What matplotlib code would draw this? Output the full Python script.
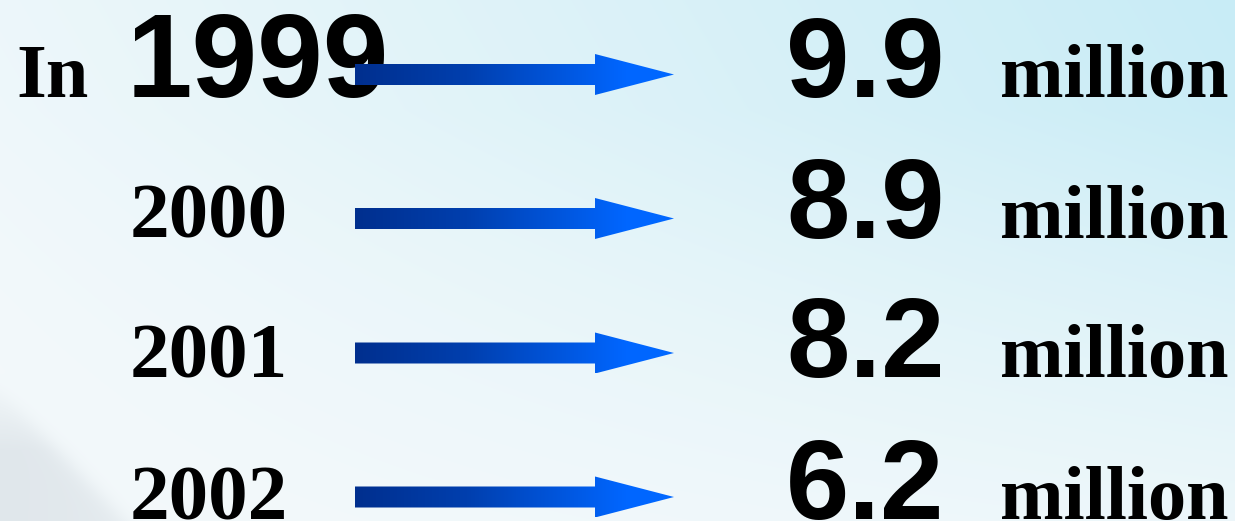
import numpy as np
import matplotlib
matplotlib.use("Agg")
import matplotlib.pyplot as plt
from matplotlib.patches import Polygon
from matplotlib.colors import LinearSegmentedColormap

# ---- data ----
prefix = "In"
years = ["1999", "2000", "2001", "2002"]
values = [9.9, 8.9, 8.2, 6.2]
unit = "million"

# ---- layout (pixel coordinates) ----
W, H = 1235, 521
baselines = [97, 238, 377, 519]
arrow_centers = [74.5, 218.5, 353, 497]
arrow_x0, arrow_head, arrow_tip = 355, 595, 674
shaft_half, head_half = 10.5, 20.5

fig = plt.figure(figsize=(W / 100, H / 100), dpi=100)
ax = fig.add_axes([0, 0, 1, 1])
ax.set_xlim(0, W)
ax.set_ylim(H, 0)
ax.axis("off")

# ---- background gradient ----
yy, xx = np.mgrid[0:H, 0:W]
u = xx / W
v = yy / H
c_top_right = np.array([200, 236, 246]) / 255
c_white = np.array([244, 249, 251]) / 255
t = np.clip(0.8 * u + 0.2 * (1 - v), 0, 1) * np.clip(1.2 - 0.95 * v, 0, 1)
t = np.clip(t ** 1.1, 0, 1)
bg = c_white[None, None, :] * (1 - t[..., None]) + c_top_right[None, None, :] * t[..., None]
# soft grey swoosh in the lower left
d = (yy - 390) - (xx * (131 / 125))
grey = 1 / (1 + np.exp(-d / 8.0))
fade = np.exp(-((xx) / 200.0) ** 2) * 0.5 + 0.3
grey = grey * fade * np.clip((yy - 370) / 80, 0, 1)
c_grey = np.array([220, 227, 232]) / 255
bg = bg * (1 - grey[..., None]) + c_grey[None, None, :] * grey[..., None]
ax.imshow(bg, extent=(0, W, H, 0), aspect="auto", zorder=0, interpolation="bilinear")

serif = "Liberation Serif"
sans = "Liberation Sans"

# ---- arrows with horizontal gradient ----
cmap = LinearSegmentedColormap.from_list(
    "arrow", [(0.0, "#002f8e"), (0.35, "#003fae"), (0.7, "#005ae6"), (0.85, "#0066ff"), (1.0, "#0068ff")])
grad = np.linspace(0, 1, 256)[None, :]
for cy in arrow_centers:
    pts = [(arrow_x0, cy - shaft_half), (arrow_head, cy - shaft_half), (arrow_head, cy - head_half),
           (arrow_tip, cy), (arrow_head, cy + head_half), (arrow_head, cy + shaft_half),
           (arrow_x0, cy + shaft_half)]
    poly = Polygon(pts, closed=True, facecolor="none", edgecolor="none", zorder=3)
    ax.add_patch(poly)
    im = ax.imshow(grad, cmap=cmap, extent=(arrow_x0, arrow_tip, cy + head_half, cy - head_half),
                   aspect="auto", zorder=3, interpolation="bilinear")
    im.set_clip_path(poly)

# ---- texts ----
ax.text(16, baselines[0], prefix, fontsize=55, fontweight="bold", family=serif,
        ha="left", va="baseline", color="black", zorder=2)
for i, (yr, val, b) in enumerate(zip(years, values, baselines)):
    if i == 0:
        ax.text(127, b, yr, fontsize=85, fontweight="bold", family=sans,
                ha="left", va="baseline", color="black", zorder=2)
    else:
        ax.text(130, b, yr, fontsize=57, fontweight="bold", family=serif,
                ha="left", va="baseline", color="black", zorder=2)
    ax.text(786, b, f"{val:.1f}", fontsize=82, fontweight="bold", family=sans,
            ha="left", va="baseline", color="black", zorder=4)
    ax.text(1000, b, unit, fontsize=55, fontweight="bold", family=serif,
            ha="left", va="baseline", color="black", zorder=4)

fig.savefig("out.png", dpi=100)
